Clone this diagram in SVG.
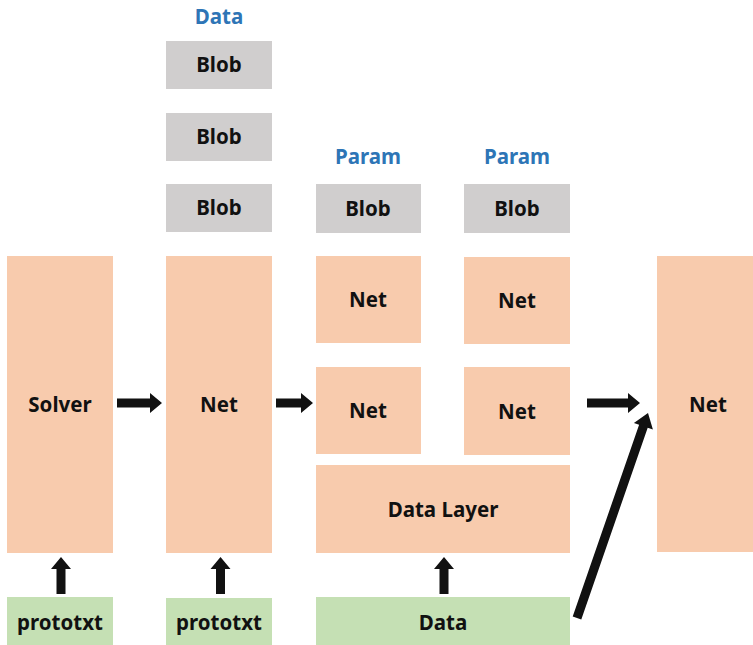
<svg xmlns="http://www.w3.org/2000/svg" width="753" height="645" viewBox="0 0 753 645">
<style>
.peach{fill:#F8CBAD}
.gray{fill:#D0CECE}
.green{fill:#C5E0B4}
text{font-family:"Noto Sans","DejaVu Sans",sans-serif;font-weight:bold;font-size:20.5px;fill:#111;text-anchor:middle}
.lbl{fill:#2E75B6}
.arr{fill:#111}
</style>
<rect width="753" height="645" fill="#fff"/>
<text class="lbl" x="219" y="24">Data</text>
<text class="lbl" x="368" y="164">Param</text>
<text class="lbl" x="517" y="164">Param</text>
<g id="blob1"><rect class="gray" x="166" y="41" width="106" height="48"/><text x="219" y="72">Blob</text></g>
<g id="blob2"><rect class="gray" x="166" y="113" width="106" height="48"/><text x="219" y="144">Blob</text></g>
<g id="blob3"><rect class="gray" x="166" y="184" width="106" height="48"/><text x="219" y="215">Blob</text></g>
<g id="blob4"><rect class="gray" x="316" y="184" width="105" height="49"/><text x="368" y="216">Blob</text></g>
<g id="blob5"><rect class="gray" x="464" y="184" width="106" height="49"/><text x="517" y="216">Blob</text></g>
<g id="solver"><rect class="peach" x="7" y="256" width="106" height="297"/><text x="60" y="412">Solver</text></g>
<g id="net1"><rect class="peach" x="166" y="256" width="106" height="297"/><text x="219" y="412">Net</text></g>
<g id="net2"><rect class="peach" x="316" y="256" width="105" height="87"/><text x="368" y="307">Net</text></g>
<g id="net3"><rect class="peach" x="464" y="257" width="106" height="87"/><text x="517" y="308">Net</text></g>
<g id="net4"><rect class="peach" x="316" y="367" width="105" height="87"/><text x="368" y="418">Net</text></g>
<g id="net5"><rect class="peach" x="464" y="367" width="106" height="88"/><text x="517" y="419">Net</text></g>
<g id="datalayer"><rect class="peach" x="316" y="465" width="254" height="88"/><text x="443" y="517">Data Layer</text></g>
<g id="net6"><rect class="peach" x="657" y="256" width="96" height="296"/><text x="708" y="412">Net</text></g>
<g id="proto1"><rect class="green" x="7" y="597" width="106" height="48"/><text x="60" y="630">prototxt</text></g>
<g id="proto2"><rect class="green" x="166" y="598" width="106" height="47"/><text x="219" y="630">prototxt</text></g>
<g id="data"><rect class="green" x="316" y="597" width="254" height="48"/><text x="443" y="630">Data</text></g>
<g id="connectors">
<polygon class="arr" points="117,398.5 150,398.5 150,393 162,403 150,413 150,407.5 117,407.5"/>
<polygon class="arr" points="276,398.5 301,398.5 301,393 313,403 301,413 301,407.5 276,407.5"/>
<polygon class="arr" points="587,398.5 628,398.5 628,393 640,403 628,413 628,407.5 587,407.5"/>
<polygon class="arr" points="56.5,594 56.5,569 51,569 61,557 71,569 65.5,569 65.5,594"/>
<polygon class="arr" points="216,594 216,569 210.5,569 220.5,557 230.5,569 225,569 225,594"/>
<polygon class="arr" points="439.5,594 439.5,569 434,569 444,557 454,569 448.5,569 448.5,594"/>
<polygon class="arr" points="572.7,616.5 639.1,424.7 633.9,422.9 648,413 652.9,429.5 647.7,427.7 581.3,619.5"/>
</g>
</svg>
